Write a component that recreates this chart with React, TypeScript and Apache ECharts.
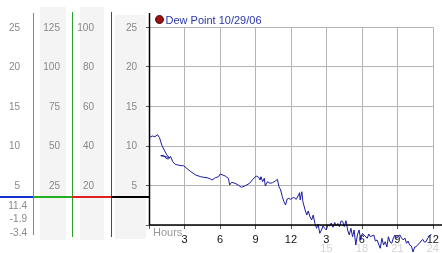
import React, { useEffect, useRef } from "react";
import * as echarts from "echarts";

// Hours since start (0..24) of the dew point trace
const hours: number[] = [
  0.08, 0.27, 0.5, 0.72, 0.89, 1.1, 1.33, 1.55, 1.74, 0.99, 1.24, 1.45, 1.66, 1.82, 2.01, 2.21, 2.43, 2.71, 2.92, 3.12,
  3.54, 3.95, 4.37, 4.64, 4.91, 5.19, 5.33, 5.61, 5.88, 6.02, 6.44, 6.71, 6.82, 6.98, 7.27, 7.54, 7.81, 8.09, 8.51, 8.78,
  9.06, 9.28, 9.39, 9.47, 9.61, 9.75, 9.83, 10.02, 10.22, 10.44, 10.71, 10.85, 10.99, 11.13, 11.27, 11.41, 11.54, 11.68, 11.82, 11.96,
  12.24, 12.45, 12.65, 12.73, 12.78, 12.92, 13.01, 13.2, 13.34, 13.46, 13.61, 13.75, 13.88, 14.03, 14.17, 14.29, 14.44, 14.58, 14.71, 14.86,
  14.99, 15.12, 15.27, 15.41, 15.55, 15.7, 15.82, 15.97, 16.1, 16.24, 16.38, 16.51, 16.65, 16.79, 16.93, 17.07, 17.21, 17.34, 17.48, 17.62,
  17.76, 17.9, 18.04, 18.17, 18.45, 18.58, 18.72, 19.0, 19.14, 19.28, 19.41, 19.55, 19.69, 19.83, 19.97, 20.11, 20.24, 20.38, 20.52, 20.66,
  20.8, 20.94, 21.07, 21.21, 21.35, 21.49, 21.63, 21.77, 21.9, 22.04, 22.18, 22.32, 22.46, 22.59, 22.73, 22.87, 23.01, 23.14, 23.28, 23.42,
  23.56, 23.69, 23.86,
];

// Dew point readings
const dewPoint: number[] = [
  11.07, 11.24, 11.15, 11.4, 11.02, 10.01, 9.34, 8.75, 8.52, 8.75, 8.8, 8.4, 8.33, 8.65, 7.99, 7.66, 7.58, 7.49, 7.49, 7.23,
  6.73, 6.31, 6.1, 6.02, 5.97, 5.81, 5.68, 5.97, 6.1, 6.44, 6.19, 5.9, 5.05, 5.39, 5.27, 5.05, 4.76, 4.92, 5.27, 5.77,
  6.19, 6.02, 5.68, 6.1, 5.47, 5.9, 4.92, 5.47, 5.27, 5.34, 5.59, 5.77, 4.84, 4.42, 3.57, 2.94, 2.53, 3.28, 3.37, 3.24,
  3.5, 3.24, 3.79, 4.08, 3.16, 4.2, 2.94, 1.89, 1.26, 1.77, 1.05, 0.63, 1.26, 0.21, -0.42, 0.13, -1.05, -0.63, -0.13, -0.42,
  -0.63, 0.0, -0.13, 0.25, -0.29, 0.32, -0.13, 0.19, -0.21, 0.51, 0.42, -0.21, 0.54, -0.63, -1.26, -0.42, -1.48, -0.63, -2.53, -1.26,
  -0.63, -1.89, -1.07, -1.26, -1.68, -1.14, -1.48, -1.26, -2.02, -1.89, -2.4, -2.94, -1.68, -2.53, -2.11, -2.78, -1.48, -2.15, -2.31, -1.64,
  -1.26, -1.68, -1.39, -1.26, -1.64, -1.89, -1.64, -2.31, -2.02, -2.53, -2.65, -3.4, -2.78, -2.74, -2.46, -2.31, -2.02, -1.81, -2.15, -2.11,
  -1.64, -1.48, -1.14,
];

const seriesName = "Dew Point 10/29/06";
const statLabels: string[] = ["11.4", "-1.9", "-3.4"];
const xLabelsFaintFrom = 15;

export default function App() {
  const ref = useRef<HTMLDivElement>(null);
  useEffect(() => {
    if (!ref.current) return;
    const chart = echarts.init(ref.current, undefined, { renderer: "svg" });
    const data = hours.map((h, i) => [h, dewPoint[i]]);
    const gridTop = 27;
    const gridBottom = 28;
    const labelColor = "#888";
    const yLabel = (offset: number, max: number, interval: number, idx: number) => ({
      type: "value",
      min: 0,
      max,
      interval,
      position: "left",
      offset,
      axisLine: { show: false },
      axisTick: idx === 0 ? { show: true, length: 3, lineStyle: { color: "#555" } } : { show: false },
      splitLine: idx === 0 ? { show: true, lineStyle: { color: "#b4b4b4", width: 1 } } : { show: false },
      axisLabel: {
        margin: 12,
        color: labelColor,
        fontSize: 10,
        formatter: (v: number) => (v === 0 ? "" : String(v)),
      },
    });
    const statsText = statLabels.map((t, i) => ({
      type: "text",
      z: 5,
      style: { text: t, x: 27, y: 205 + i * 13.5, align: "right", verticalAlign: "middle", fill: labelColor, fontSize: 10, fontFamily: "Liberation Sans" },
    }));
    chart.setOption({
      animation: false,
      textStyle: { fontFamily: "Liberation Sans" },
      grid: { left: 149, right: 4, top: gridTop, bottom: gridBottom },
      legend: {
        left: 155,
        top: 14,
        padding: 0,
        itemWidth: 8,
        itemHeight: 8,
        itemGap: 2,
        textStyle: { color: "#2a36a8", fontSize: 11, padding: [0, 0, 0, -3] },
        data: [{ name: seriesName, icon: "circle", itemStyle: { color: "#a01010", borderColor: "#400000", borderWidth: 1 } }],
      },
      xAxis: [
        {
          type: "value",
          position: "bottom",
          min: 0,
          max: 24,
          interval: 3,
          axisLine: { show: false },
          axisTick: { show: true, length: 4, lineStyle: { color: "#555" } },
          splitLine: { show: true, lineStyle: { color: "#b4b4b4", width: 1 } },
          axisLabel: {
            margin: 8,
            color: "#111",
            fontSize: 11,
            formatter: (v: number) => (v === 0 ? "" : String(v > 12 ? v - 12 : v)),
          },
        },
        {
          type: "value",
          position: "bottom",
          min: 0,
          max: 24,
          interval: 3,
          axisLine: { show: false },
          axisTick: { show: false },
          splitLine: { show: false },
          axisLabel: {
            margin: 17,
            color: "#d4d4d4",
            fontSize: 11,
            formatter: (v: number) => (v >= xLabelsFaintFrom ? String(v) : ""),
          },
        },
      ],
      yAxis: [yLabel(0, 25, 5, 0), yLabel(43, 100, 20, 1), yLabel(77, 125, 25, 2), yLabel(117, 25, 5, 3)],
      series: [
        {
          name: seriesName,
          type: "line",
          data,
          xAxisIndex: 0,
          yAxisIndex: 0,
          showSymbol: false,
          clip: false,
          z: 3,
          lineStyle: { color: "#1a1aa0", width: 1 },
        },
      ],
      graphic: [
        { type: "rect", z: -1, shape: { x: 40, y: 7, width: 26, height: 233 }, style: { fill: "#f4f4f4" } },
        { type: "rect", z: -1, shape: { x: 80, y: 7, width: 24, height: 233 }, style: { fill: "#f4f4f4" } },
        { type: "rect", z: -1, shape: { x: 115, y: 15, width: 31, height: 224 }, style: { fill: "#f4f4f4" } },
        { type: "line", z: 4, shape: { x1: 33.5, y1: 13, x2: 33.5, y2: 235 }, style: { stroke: "#3a9ccc", lineWidth: 1 } },
        { type: "line", z: 4, shape: { x1: 72.5, y1: 12, x2: 72.5, y2: 237 }, style: { stroke: "#2ea02e", lineWidth: 1 } },
        { type: "line", z: 4, shape: { x1: 111.5, y1: 12, x2: 111.5, y2: 237 }, style: { stroke: "#b02020", lineWidth: 1 } },
        { type: "line", z: 5, shape: { x1: 0, y1: 197, x2: 33, y2: 197 }, style: { stroke: "#1030d0", lineWidth: 2 } },
        { type: "line", z: 5, shape: { x1: 33, y1: 197, x2: 72, y2: 197 }, style: { stroke: "#20b020", lineWidth: 2 } },
        { type: "line", z: 5, shape: { x1: 72, y1: 197, x2: 111, y2: 197 }, style: { stroke: "#e02020", lineWidth: 2 } },
        { type: "line", z: 5, shape: { x1: 111, y1: 197, x2: 149, y2: 197 }, style: { stroke: "#000", lineWidth: 2 } },
        { type: "line", z: 5, shape: { x1: 149.5, y1: 13, x2: 149.5, y2: 225 }, style: { stroke: "#000", lineWidth: 1.5 } },
        { type: "line", z: 5, shape: { x1: 149, y1: 225, x2: 442, y2: 225 }, style: { stroke: "#000", lineWidth: 1.5 } },
        { type: "text", z: 5, style: { text: "Hours", x: 153, y: 232, verticalAlign: "middle", fill: "#999", fontSize: 11, fontFamily: "Liberation Sans" } },
        ...statsText,
      ],
    });
    return () => chart.dispose();
  }, []);
  return <div ref={ref} style={{ position: "fixed", left: 0, top: 0, width: 442, height: 253 }} />;
}
